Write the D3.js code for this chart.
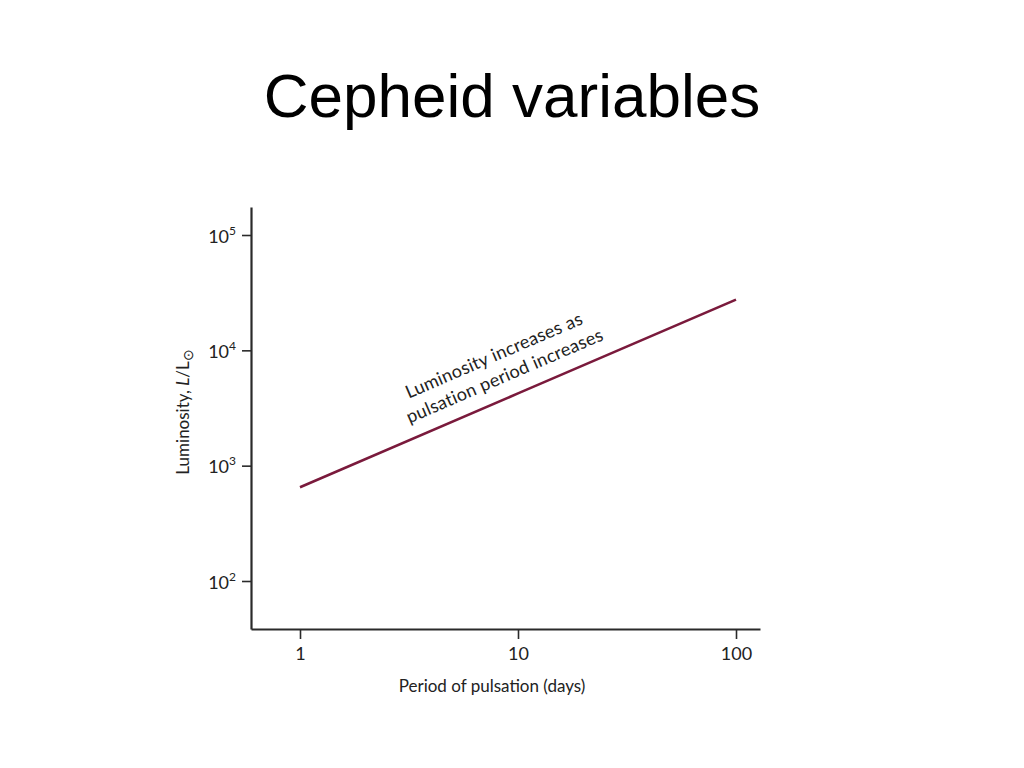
<!DOCTYPE html>
<html>
<head>
<meta charset="utf-8">
<script src="https://cdn.jsdelivr.net/npm/d3@7"></script>
<style>
  html, body { margin: 0; padding: 0; background: #fff; }
  svg { display: block; }
</style>
</head>
<body>
<svg id="chart" width="1024" height="768"></svg>
<script>
// ---- data ----
const title = "Cepheid variables";
const periods = [1, 10, 100];              // days
const luminosity = [650, 4230, 27500];      // L / L_sun
const xTickValues = [1, 10, 100];
const xTickLabels = ["1", "10", "100"];
const yTickExponents = [2, 3, 4, 5];
const xAxisTitle = "Period of pulsation (days)";
const annotationLines = ["Luminosity increases as", "pulsation period increases"];
const annotationAnchor = { period: 3.15, lum: 3800 };

// ---- layout ----
const svg = d3.select("#chart");
const axisFont = "Lato, 'Open Sans', sans-serif";
const axisColor = "#2a2a2a";
const lineColor = "#7a1a3c";

const x = d3.scaleLog().domain([1, 100]).range([300, 736]);
const y = d3.scaleLog().domain([1e2, 1e5]).range([581, 235]);
// extend domains so the axes reach the plot frame
x.domain([x.invert(251), x.invert(760)]).range([251, 760]);
y.domain([y.invert(629), y.invert(207)]).range([629, 207]);

// title
svg.append("text")
  .attr("x", 512).attr("y", 117)
  .attr("text-anchor", "middle")
  .attr("font-family", "'Liberation Sans', Arial, sans-serif")
  .attr("font-size", 62)
  .attr("fill", "#000")
  .text(title);

// x axis
const xAxis = d3.axisBottom(x)
  .tickValues(xTickValues)
  .tickFormat((d, i) => xTickLabels[i])
  .tickSizeInner(10).tickSizeOuter(0).tickPadding(8);
const gx = svg.append("g").attr("transform", `translate(0,${y.range()[0]})`).call(xAxis);
gx.select(".domain").attr("stroke", axisColor).attr("stroke-width", 2.2);
gx.selectAll(".tick line").attr("stroke", axisColor).attr("stroke-width", 1.6);
gx.selectAll(".tick text").attr("font-family", axisFont).attr("font-size", 18).attr("fill", "#222");

// y axis
const yAxis = d3.axisLeft(y)
  .tickValues(yTickExponents.map(e => Math.pow(10, e)))
  .tickFormat("")
  .tickSizeInner(9).tickSizeOuter(0);
const gy = svg.append("g").attr("transform", `translate(${x.range()[0]},0)`).call(yAxis);
gy.select(".domain").attr("stroke", axisColor).attr("stroke-width", 2.2);
gy.selectAll(".tick line").attr("stroke", axisColor).attr("stroke-width", 1.6);
gy.selectAll(".tick").each(function(d, i) {
  const t = d3.select(this).append("text")
    .attr("x", -15).attr("y", 7)
    .attr("text-anchor", "end")
    .attr("font-family", axisFont).attr("font-size", 18).attr("fill", "#222");
  t.append("tspan").text("10");
  t.append("tspan").attr("font-size", 12).attr("dy", -8).text(yTickExponents[i]);
});

// y axis title
const yTitle = svg.append("text")
  .attr("transform", `translate(189,412) rotate(-90)`)
  .attr("text-anchor", "middle")
  .attr("font-family", axisFont).attr("font-size", 17).attr("fill", "#222");
yTitle.append("tspan").text("Luminosity, ");
yTitle.append("tspan").attr("font-style", "italic").text("L");
yTitle.append("tspan").text("/L");
yTitle.append("tspan").attr("font-size", 14).attr("dy", 4).text("\u2299");

// x axis title
svg.append("text")
  .attr("x", 492).attr("y", 692)
  .attr("text-anchor", "middle")
  .attr("font-family", axisFont).attr("font-size", 17).attr("fill", "#222")
  .text(xAxisTitle);

// line
const pts = periods.map((p, i) => [p, luminosity[i]]);
svg.append("path")
  .datum(pts)
  .attr("d", d3.line().x(d => x(d[0])).y(d => y(d[1])))
  .attr("fill", "none")
  .attr("stroke", lineColor)
  .attr("stroke-width", 2.6);

// annotation
const angle = Math.atan2(y(luminosity[2]) - y(luminosity[0]), x(periods[2]) - x(periods[0])) * 180 / Math.PI;
const ann = svg.append("text")
  .attr("transform", `translate(${x(annotationAnchor.period)},${y(annotationAnchor.lum)}) rotate(${angle})`)
  .attr("font-family", axisFont).attr("font-size", 18).attr("letter-spacing", 0.3).attr("fill", "#222");
annotationLines.forEach((l, i) => {
  ann.append("tspan").attr("x", i === 0 ? 0 : -9).attr("dy", i === 0 ? 0 : 23).text(l);
});
</script>
</body>
</html>
